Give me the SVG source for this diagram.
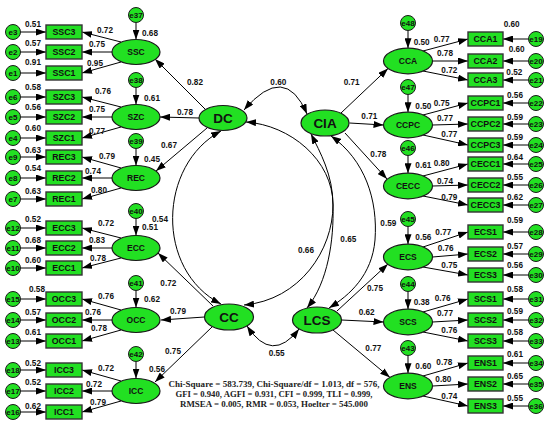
<svg xmlns="http://www.w3.org/2000/svg" width="550" height="426" viewBox="0 0 550 426">
<defs>
<marker id="ah" viewBox="0 0 10 7" refX="10" refY="3.5" markerWidth="10" markerHeight="7" markerUnits="userSpaceOnUse" orient="auto"><path d="M0,0 L10,3.5 L0,7 z" fill="#000"/></marker>
<marker id="ahs" viewBox="0 0 10 7" refX="10" refY="3.5" markerWidth="10" markerHeight="7" markerUnits="userSpaceOnUse" orient="auto-start-reverse"><path d="M0,0 L10,3.5 L0,7 z" fill="#000"/></marker>
<style>
.lat{fill:#22e022;stroke:#1a1a1a;stroke-width:1.2}
.box{fill:#22e022;stroke:#333;stroke-width:1.4}
.err{fill:#22e022;stroke:#1a1a1a;stroke-width:1}
.t{font-family:"Liberation Sans",Arial,sans-serif;font-weight:bold;fill:#111;text-anchor:middle}
.n{font-size:8.2px}
.bt{font-size:8.8px}
.lt{font-size:8.5px}
.big{font-size:13.5px}
.et{font-size:8px}
.c line,.c path{fill:none;stroke:#000;stroke-width:1;marker-end:url(#ah)}
.c .dbl{marker-start:url(#ahs)}
.st{font-family:"Liberation Serif","Times New Roman",serif;font-size:9px;font-weight:bold;fill:#222;text-anchor:middle}
</style>
</defs>
<rect width="550" height="426" fill="#fff"/>

<g id="connectors" class="c">
<line x1="20.5" y1="32" x2="46" y2="32"/><line x1="20.5" y1="52" x2="46" y2="52"/><line x1="20.5" y1="73" x2="46" y2="73"/>
<line x1="20.5" y1="97" x2="46" y2="97"/><line x1="20.5" y1="117" x2="46" y2="117"/><line x1="20.5" y1="138" x2="46" y2="138"/>
<line x1="20.5" y1="157" x2="46" y2="157"/><line x1="20.5" y1="178" x2="46" y2="178"/><line x1="20.5" y1="199" x2="46" y2="199"/>
<line x1="20.5" y1="228" x2="46" y2="228"/><line x1="20.5" y1="248" x2="46" y2="248"/><line x1="20.5" y1="268" x2="46" y2="268"/>
<line x1="20.5" y1="299" x2="46" y2="299"/><line x1="20.5" y1="320" x2="46" y2="320"/><line x1="20.5" y1="341" x2="46" y2="341"/>
<line x1="20.5" y1="370" x2="46" y2="370"/><line x1="20.5" y1="391" x2="46" y2="391"/><line x1="20.5" y1="412" x2="46" y2="412"/>
<line x1="136" y1="22.5" x2="136" y2="39.5"/><line x1="136" y1="87.5" x2="136" y2="104.5"/><line x1="136" y1="148.5" x2="136" y2="165.5"/>
<line x1="136" y1="218.5" x2="136" y2="235.5"/><line x1="136" y1="290.5" x2="136" y2="307.5"/><line x1="136" y1="361.5" x2="136" y2="378.5"/>
<line x1="121" y1="42" x2="82" y2="32"/><line x1="112" y1="52" x2="82" y2="52"/><line x1="121" y1="62" x2="82" y2="73"/>
<line x1="121" y1="107" x2="82" y2="97"/><line x1="112" y1="117" x2="82" y2="117"/><line x1="121" y1="127" x2="82" y2="138"/>
<line x1="121" y1="168" x2="82" y2="157"/><line x1="112" y1="178" x2="82" y2="178"/><line x1="121" y1="188" x2="82" y2="199"/>
<line x1="121" y1="238" x2="82" y2="228"/><line x1="112" y1="248" x2="82" y2="248"/><line x1="121" y1="258" x2="82" y2="268"/>
<line x1="121" y1="310" x2="82" y2="299"/><line x1="112" y1="320" x2="82" y2="320"/><line x1="121" y1="330" x2="82" y2="341"/>
<line x1="121" y1="381" x2="82" y2="370"/><line x1="112" y1="391" x2="82" y2="391"/><line x1="121" y1="401" x2="82" y2="412"/>
<line x1="528.5" y1="39" x2="503" y2="39"/><line x1="528.5" y1="61" x2="503" y2="61"/><line x1="528.5" y1="80" x2="503" y2="80"/>
<line x1="528.5" y1="103" x2="503" y2="103"/><line x1="528.5" y1="124" x2="503" y2="124"/><line x1="528.5" y1="145" x2="503" y2="145"/>
<line x1="528.5" y1="164" x2="503" y2="164"/><line x1="528.5" y1="185" x2="503" y2="185"/><line x1="528.5" y1="205" x2="503" y2="205"/>
<line x1="528.5" y1="232" x2="503" y2="232"/><line x1="528.5" y1="254" x2="503" y2="254"/><line x1="528.5" y1="275" x2="503" y2="275"/>
<line x1="528.5" y1="299" x2="503" y2="299"/><line x1="528.5" y1="320" x2="503" y2="320"/><line x1="528.5" y1="341" x2="503" y2="341"/>
<line x1="528.5" y1="363" x2="503" y2="363"/><line x1="528.5" y1="384" x2="503" y2="384"/><line x1="528.5" y1="406" x2="503" y2="406"/>
<line x1="408" y1="30.5" x2="408" y2="48.2"/><line x1="408" y1="94.5" x2="408" y2="112.2"/><line x1="408" y1="155.5" x2="408" y2="173.2"/>
<line x1="408" y1="226.5" x2="408" y2="244.2"/><line x1="408" y1="291.5" x2="408" y2="309.2"/><line x1="408" y1="355.5" x2="408" y2="373.2"/>
<line x1="423" y1="51" x2="468" y2="39"/><line x1="432.5" y1="61" x2="468" y2="61"/><line x1="423" y1="71" x2="468" y2="80"/>
<line x1="423" y1="115" x2="468" y2="103"/><line x1="432.5" y1="125" x2="468" y2="124"/><line x1="423" y1="135" x2="468" y2="145"/>
<line x1="423" y1="176" x2="468" y2="164"/><line x1="432.5" y1="186" x2="468" y2="185"/><line x1="423" y1="196" x2="468" y2="205"/>
<line x1="423" y1="247" x2="468" y2="232"/><line x1="432.5" y1="257" x2="468" y2="254"/><line x1="423" y1="267" x2="468" y2="275"/>
<line x1="423" y1="312" x2="468" y2="299"/><line x1="432.5" y1="322" x2="468" y2="320"/><line x1="423" y1="332" x2="468" y2="341"/>
<line x1="423" y1="376" x2="468" y2="363"/><line x1="432.5" y1="386" x2="468" y2="384"/><line x1="423" y1="396" x2="468" y2="406"/>
<line x1="205" y1="109" x2="155" y2="59"/>
<line x1="199" y1="118" x2="160" y2="117"/>
<line x1="207" y1="128" x2="156" y2="171"/>
<line x1="341" y1="113" x2="388" y2="68.5"/>
<line x1="349.5" y1="123" x2="383.5" y2="125"/>
<line x1="345" y1="133" x2="387" y2="179"/>
<line x1="213" y1="306" x2="158" y2="253"/>
<line x1="204.5" y1="317" x2="161" y2="320"/>
<line x1="212" y1="327" x2="155" y2="382"/>
<line x1="337" y1="311" x2="388" y2="264"/>
<line x1="341.5" y1="320" x2="383.5" y2="322"/>
<line x1="333" y1="330" x2="390" y2="377.5"/>
<path class="dbl" d="M244,110 Q285,62 307,114"/>
<path class="dbl" d="M221,131 C158,165 155,270 221,304"/>
<path class="dbl" d="M246,122 C290,125 333,160 333,205 C334,240 328,282 307,308"/>
<path class="dbl" d="M311,134 C320,152 333,175 333,205 C333,250 300,300 244,305"/>
<path class="dbl" d="M331,136 C365,160 378,200 375,240 C372,275 350,295 329,308"/>
<path class="dbl" d="M247,326 Q272,364 299,329"/>
</g>

<g id="labels" class="t n">
<text x="33" y="27">0.51</text><text x="33" y="45.7">0.57</text><text x="33" y="64.7">0.91</text>
<text x="33" y="89.7">0.58</text><text x="33" y="110.3">0.56</text><text x="33" y="131.3">0.60</text>
<text x="33" y="153">0.63</text><text x="33" y="171">0.54</text><text x="33" y="193.7">0.63</text>
<text x="33" y="222">0.52</text><text x="33" y="243">0.68</text><text x="33" y="263">0.60</text>
<text x="37" y="292">0.58</text><text x="33" y="315">0.57</text><text x="33" y="334.7">0.61</text>
<text x="33" y="365.7">0.52</text><text x="33" y="384.7">0.52</text><text x="33" y="409">0.62</text>
<text x="105" y="33">0.72</text><text x="97" y="47">0.75</text><text x="95" y="66">0.95</text>
<text x="103" y="94">0.76</text><text x="97" y="112">0.75</text><text x="97" y="134">0.77</text>
<text x="107" y="159">0.79</text><text x="93" y="174">0.74</text><text x="99" y="193">0.80</text>
<text x="106" y="226">0.72</text><text x="97" y="243">0.83</text><text x="98" y="261">0.78</text>
<text x="106" y="299">0.76</text><text x="93" y="315">0.76</text><text x="99" y="331">0.78</text>
<text x="106" y="371">0.72</text><text x="94" y="387">0.72</text><text x="98" y="405">0.79</text>
<text x="150" y="36">0.68</text><text x="152" y="101">0.61</text><text x="152" y="162">0.45</text>
<text x="150" y="230">0.51</text><text x="152" y="302">0.62</text><text x="157" y="372">0.56</text>
<text x="421.7" y="45.3">0.50</text><text x="423.3" y="109">0.50</text><text x="423.3" y="168">0.61</text>
<text x="423.3" y="239.7">0.56</text><text x="421.7" y="304.7">0.38</text><text x="423.3" y="369">0.60</text>
<text x="441.7" y="42">0.77</text><text x="445" y="56.3">0.78</text><text x="449.3" y="73">0.72</text>
<text x="441.7" y="106.3">0.75</text><text x="445" y="121.3">0.77</text><text x="449.3" y="137.3">0.77</text>
<text x="441.7" y="166.3">0.80</text><text x="445" y="184">0.74</text><text x="449.3" y="199.7">0.79</text>
<text x="443.3" y="234.7">0.77</text><text x="445.7" y="251.3">0.76</text><text x="449.3" y="268">0.75</text>
<text x="442.7" y="301.3">0.76</text><text x="445" y="316.3">0.77</text><text x="449.3" y="333">0.76</text>
<text x="444.3" y="364.7">0.78</text><text x="443.3" y="382">0.80</text><text x="449.3" y="399">0.74</text>
<text x="511.7" y="27">0.60</text><text x="516.7" y="52.3">0.60</text><text x="514.3" y="74.7">0.52</text>
<text x="515" y="98">0.56</text><text x="515" y="119.7">0.59</text><text x="515" y="139.7">0.59</text>
<text x="515" y="159.7">0.64</text><text x="515" y="179.7">0.55</text><text x="515" y="199.7">0.62</text>
<text x="515" y="223">0.59</text><text x="515" y="249">0.57</text><text x="515" y="268">0.56</text>
<text x="515" y="292">0.58</text><text x="515" y="313.7">0.59</text><text x="515" y="334.7">0.58</text>
<text x="515" y="357">0.61</text><text x="515" y="378.7">0.65</text><text x="515" y="401.3">0.55</text>
<text x="195" y="85.3">0.82</text><text x="185" y="114.7">0.78</text><text x="169" y="148">0.67</text>
<text x="351.7" y="85.3">0.71</text><text x="369.3" y="119">0.71</text><text x="378.3" y="157">0.78</text>
<text x="168.3" y="286.3">0.72</text><text x="178" y="313.7">0.79</text><text x="173" y="354">0.75</text>
<text x="375" y="291.3">0.75</text><text x="366.7" y="314.7">0.62</text><text x="373.3" y="351.3">0.77</text>
<text x="278.3" y="85.3">0.60</text><text x="160" y="222">0.54</text><text x="306" y="253">0.66</text>
<text x="348.3" y="242.3">0.65</text><text x="388.3" y="226.3">0.59</text><text x="276.7" y="356.3">0.55</text>
</g>

<g id="SSC"><ellipse class="lat" cx="136" cy="52" rx="24" ry="12.5"/><text class="t lt" x="136" y="55">SSC</text></g>
<g id="SZC"><ellipse class="lat" cx="136" cy="117" rx="24" ry="12.5"/><text class="t lt" x="136" y="120">SZC</text></g>
<g id="REC"><ellipse class="lat" cx="136" cy="178" rx="24" ry="12.5"/><text class="t lt" x="136" y="181">REC</text></g>
<g id="ECC"><ellipse class="lat" cx="136" cy="248" rx="24" ry="12.5"/><text class="t lt" x="136" y="251">ECC</text></g>
<g id="OCC"><ellipse class="lat" cx="136" cy="320" rx="24" ry="12.5"/><text class="t lt" x="136" y="323">OCC</text></g>
<g id="ICC"><ellipse class="lat" cx="136" cy="391" rx="24" ry="12.5"/><text class="t lt" x="136" y="394">ICC</text></g>

<g id="e37"><circle class="err" cx="136" cy="15" r="7.5"/><text class="t et" x="136" y="18">e37</text></g>
<g id="e38"><circle class="err" cx="136" cy="80" r="7.5"/><text class="t et" x="136" y="83">e38</text></g>
<g id="e39"><circle class="err" cx="136" cy="141" r="7.5"/><text class="t et" x="136" y="144">e39</text></g>
<g id="e40"><circle class="err" cx="136" cy="211" r="7.5"/><text class="t et" x="136" y="214">e40</text></g>
<g id="e41"><circle class="err" cx="136" cy="283" r="7.5"/><text class="t et" x="136" y="286">e41</text></g>
<g id="e42"><circle class="err" cx="136" cy="354" r="7.5"/><text class="t et" x="136" y="357">e42</text></g>

<g id="SSC3"><rect class="box" x="46" y="25" width="36" height="14"/><text class="t bt" x="64" y="35.2">SSC3</text></g>
<g id="SSC2"><rect class="box" x="46" y="45" width="36" height="14"/><text class="t bt" x="64" y="55.2">SSC2</text></g>
<g id="SSC1"><rect class="box" x="46" y="66" width="36" height="14"/><text class="t bt" x="64" y="76.2">SSC1</text></g>
<g id="SZC3"><rect class="box" x="46" y="90" width="36" height="14"/><text class="t bt" x="64" y="100.2">SZC3</text></g>
<g id="SZC2"><rect class="box" x="46" y="110" width="36" height="14"/><text class="t bt" x="64" y="120.2">SZC2</text></g>
<g id="SZC1"><rect class="box" x="46" y="131" width="36" height="14"/><text class="t bt" x="64" y="141.2">SZC1</text></g>
<g id="REC3"><rect class="box" x="46" y="150" width="36" height="14"/><text class="t bt" x="64" y="160.2">REC3</text></g>
<g id="REC2"><rect class="box" x="46" y="171" width="36" height="14"/><text class="t bt" x="64" y="181.2">REC2</text></g>
<g id="REC1"><rect class="box" x="46" y="192" width="36" height="14"/><text class="t bt" x="64" y="202.2">REC1</text></g>
<g id="ECC3"><rect class="box" x="46" y="221" width="36" height="14"/><text class="t bt" x="64" y="231.2">ECC3</text></g>
<g id="ECC2"><rect class="box" x="46" y="241" width="36" height="14"/><text class="t bt" x="64" y="251.2">ECC2</text></g>
<g id="ECC1"><rect class="box" x="46" y="261" width="36" height="14"/><text class="t bt" x="64" y="271.2">ECC1</text></g>
<g id="OCC3"><rect class="box" x="46" y="292" width="36" height="14"/><text class="t bt" x="64" y="302.2">OCC3</text></g>
<g id="OCC2"><rect class="box" x="46" y="313" width="36" height="14"/><text class="t bt" x="64" y="323.2">OCC2</text></g>
<g id="OCC1"><rect class="box" x="46" y="334" width="36" height="14"/><text class="t bt" x="64" y="344.2">OCC1</text></g>
<g id="ICC3"><rect class="box" x="46" y="363" width="36" height="14"/><text class="t bt" x="64" y="373.2">ICC3</text></g>
<g id="ICC2"><rect class="box" x="46" y="384" width="36" height="14"/><text class="t bt" x="64" y="394.2">ICC2</text></g>
<g id="ICC1"><rect class="box" x="46" y="405" width="36" height="14"/><text class="t bt" x="64" y="415.2">ICC1</text></g>

<g id="e3"><circle class="err" cx="13" cy="32" r="7.5"/><text class="t et" x="13" y="35">e3</text></g>
<g id="e2"><circle class="err" cx="13" cy="52" r="7.5"/><text class="t et" x="13" y="55">e2</text></g>
<g id="e1"><circle class="err" cx="13" cy="73" r="7.5"/><text class="t et" x="13" y="76">e1</text></g>
<g id="e6"><circle class="err" cx="13" cy="97" r="7.5"/><text class="t et" x="13" y="100">e6</text></g>
<g id="e5"><circle class="err" cx="13" cy="117" r="7.5"/><text class="t et" x="13" y="120">e5</text></g>
<g id="e4"><circle class="err" cx="13" cy="138" r="7.5"/><text class="t et" x="13" y="141">e4</text></g>
<g id="e9"><circle class="err" cx="13" cy="157" r="7.5"/><text class="t et" x="13" y="160">e9</text></g>
<g id="e8"><circle class="err" cx="13" cy="178" r="7.5"/><text class="t et" x="13" y="181">e8</text></g>
<g id="e7"><circle class="err" cx="13" cy="199" r="7.5"/><text class="t et" x="13" y="202">e7</text></g>
<g id="e12"><circle class="err" cx="13" cy="228" r="7.5"/><text class="t et" x="13" y="231">e12</text></g>
<g id="e11"><circle class="err" cx="13" cy="248" r="7.5"/><text class="t et" x="13" y="251">e11</text></g>
<g id="e10"><circle class="err" cx="13" cy="268" r="7.5"/><text class="t et" x="13" y="271">e10</text></g>
<g id="e15"><circle class="err" cx="13" cy="299" r="7.5"/><text class="t et" x="13" y="302">e15</text></g>
<g id="e14"><circle class="err" cx="13" cy="320" r="7.5"/><text class="t et" x="13" y="323">e14</text></g>
<g id="e13"><circle class="err" cx="13" cy="341" r="7.5"/><text class="t et" x="13" y="344">e13</text></g>
<g id="e18"><circle class="err" cx="13" cy="370" r="7.5"/><text class="t et" x="13" y="373">e18</text></g>
<g id="e17"><circle class="err" cx="13" cy="391" r="7.5"/><text class="t et" x="13" y="394">e17</text></g>
<g id="e16"><circle class="err" cx="13" cy="412" r="7.5"/><text class="t et" x="13" y="415">e16</text></g>

<g id="DC"><ellipse class="lat" cx="223" cy="118" rx="24" ry="12.5"/><text class="t big" x="223" y="123">DC</text></g>
<g id="CIA"><ellipse class="lat" cx="325" cy="123" rx="24" ry="13"/><text class="t big" x="325" y="128">CIA</text></g>
<g id="CC"><ellipse class="lat" cx="229" cy="317" rx="24.5" ry="13"/><text class="t big" x="229" y="322">CC</text></g>
<g id="LCS"><ellipse class="lat" cx="317" cy="320" rx="24.5" ry="13"/><text class="t big" x="317" y="325">LCS</text></g>

<g id="CCA"><ellipse class="lat" cx="408" cy="61" rx="24.5" ry="12.8"/><text class="t lt" x="408" y="64">CCA</text></g>
<g id="CCPC"><ellipse class="lat" cx="408" cy="125" rx="24.5" ry="12.8"/><text class="t lt" x="408" y="128">CCPC</text></g>
<g id="CECC"><ellipse class="lat" cx="408" cy="186" rx="24.5" ry="12.8"/><text class="t lt" x="408" y="189">CECC</text></g>
<g id="ECS"><ellipse class="lat" cx="408" cy="257" rx="24.5" ry="12.8"/><text class="t lt" x="408" y="260">ECS</text></g>
<g id="SCS"><ellipse class="lat" cx="408" cy="322" rx="24.5" ry="12.8"/><text class="t lt" x="408" y="325">SCS</text></g>
<g id="ENS"><ellipse class="lat" cx="408" cy="386" rx="24.5" ry="12.8"/><text class="t lt" x="408" y="389">ENS</text></g>

<g id="e48"><circle class="err" cx="408" cy="23" r="7.5"/><text class="t et" x="408" y="26">e48</text></g>
<g id="e47"><circle class="err" cx="408" cy="87" r="7.5"/><text class="t et" x="408" y="90">e47</text></g>
<g id="e46"><circle class="err" cx="408" cy="148" r="7.5"/><text class="t et" x="408" y="151">e46</text></g>
<g id="e45"><circle class="err" cx="408" cy="219" r="7.5"/><text class="t et" x="408" y="222">e45</text></g>
<g id="e44"><circle class="err" cx="408" cy="284" r="7.5"/><text class="t et" x="408" y="287">e44</text></g>
<g id="e43"><circle class="err" cx="408" cy="348" r="7.5"/><text class="t et" x="408" y="351">e43</text></g>

<g id="CCA1"><rect class="box" x="468" y="32" width="35" height="14"/><text class="t bt" x="485.5" y="42.2">CCA1</text></g>
<g id="CCA2"><rect class="box" x="468" y="54" width="35" height="14"/><text class="t bt" x="485.5" y="64.2">CCA2</text></g>
<g id="CCA3"><rect class="box" x="468" y="73" width="35" height="14"/><text class="t bt" x="485.5" y="83.2">CCA3</text></g>
<g id="CCPC1"><rect class="box" x="468" y="96" width="35" height="14"/><text class="t bt" x="485.5" y="106.2">CCPC1</text></g>
<g id="CCPC2"><rect class="box" x="468" y="117" width="35" height="14"/><text class="t bt" x="485.5" y="127.2">CCPC2</text></g>
<g id="CCPC3"><rect class="box" x="468" y="138" width="35" height="14"/><text class="t bt" x="485.5" y="148.2">CCPC3</text></g>
<g id="CECC1"><rect class="box" x="468" y="157" width="35" height="14"/><text class="t bt" x="485.5" y="167.2">CECC1</text></g>
<g id="CECC2"><rect class="box" x="468" y="178" width="35" height="14"/><text class="t bt" x="485.5" y="188.2">CECC2</text></g>
<g id="CECC3"><rect class="box" x="468" y="198" width="35" height="14"/><text class="t bt" x="485.5" y="208.2">CECC3</text></g>
<g id="ECS1"><rect class="box" x="468" y="225" width="35" height="14"/><text class="t bt" x="485.5" y="235.2">ECS1</text></g>
<g id="ECS2"><rect class="box" x="468" y="247" width="35" height="14"/><text class="t bt" x="485.5" y="257.2">ECS2</text></g>
<g id="ECS3"><rect class="box" x="468" y="268" width="35" height="14"/><text class="t bt" x="485.5" y="278.2">ECS3</text></g>
<g id="SCS1"><rect class="box" x="468" y="292" width="35" height="14"/><text class="t bt" x="485.5" y="302.2">SCS1</text></g>
<g id="SCS2"><rect class="box" x="468" y="313" width="35" height="14"/><text class="t bt" x="485.5" y="323.2">SCS2</text></g>
<g id="SCS3"><rect class="box" x="468" y="334" width="35" height="14"/><text class="t bt" x="485.5" y="344.2">SCS3</text></g>
<g id="ENS1"><rect class="box" x="468" y="356" width="35" height="14"/><text class="t bt" x="485.5" y="366.2">ENS1</text></g>
<g id="ENS2"><rect class="box" x="468" y="377" width="35" height="14"/><text class="t bt" x="485.5" y="387.2">ENS2</text></g>
<g id="ENS3"><rect class="box" x="468" y="399" width="35" height="14"/><text class="t bt" x="485.5" y="409.2">ENS3</text></g>

<g id="e19"><circle class="err" cx="536" cy="39" r="7.5"/><text class="t et" x="536" y="42">e19</text></g>
<g id="e20"><circle class="err" cx="536" cy="61" r="7.5"/><text class="t et" x="536" y="64">e20</text></g>
<g id="e21"><circle class="err" cx="536" cy="80" r="7.5"/><text class="t et" x="536" y="83">e21</text></g>
<g id="e22"><circle class="err" cx="536" cy="103" r="7.5"/><text class="t et" x="536" y="106">e22</text></g>
<g id="e23"><circle class="err" cx="536" cy="124" r="7.5"/><text class="t et" x="536" y="127">e23</text></g>
<g id="e24"><circle class="err" cx="536" cy="145" r="7.5"/><text class="t et" x="536" y="148">e24</text></g>
<g id="e25"><circle class="err" cx="536" cy="164" r="7.5"/><text class="t et" x="536" y="167">e25</text></g>
<g id="e26"><circle class="err" cx="536" cy="185" r="7.5"/><text class="t et" x="536" y="188">e26</text></g>
<g id="e27"><circle class="err" cx="536" cy="205" r="7.5"/><text class="t et" x="536" y="208">e27</text></g>
<g id="e28"><circle class="err" cx="536" cy="232" r="7.5"/><text class="t et" x="536" y="235">e28</text></g>
<g id="e29"><circle class="err" cx="536" cy="254" r="7.5"/><text class="t et" x="536" y="257">e29</text></g>
<g id="e30"><circle class="err" cx="536" cy="275" r="7.5"/><text class="t et" x="536" y="278">e30</text></g>
<g id="e31"><circle class="err" cx="536" cy="299" r="7.5"/><text class="t et" x="536" y="302">e31</text></g>
<g id="e32"><circle class="err" cx="536" cy="320" r="7.5"/><text class="t et" x="536" y="323">e32</text></g>
<g id="e33"><circle class="err" cx="536" cy="341" r="7.5"/><text class="t et" x="536" y="344">e33</text></g>
<g id="e34"><circle class="err" cx="536" cy="363" r="7.5"/><text class="t et" x="536" y="366">e34</text></g>
<g id="e35"><circle class="err" cx="536" cy="384" r="7.5"/><text class="t et" x="536" y="387">e35</text></g>
<g id="e36"><circle class="err" cx="536" cy="406" r="7.5"/><text class="t et" x="536" y="409">e36</text></g>

<g id="fit-stats">
<text class="st" x="274" y="386.5" textLength="211" lengthAdjust="spacingAndGlyphs">Chi-Square = 583.739, Chi-Square/df = 1.013, df = 576,</text>
<text class="st" x="274" y="396.5" textLength="197" lengthAdjust="spacingAndGlyphs">GFI = 0.940, AGFI = 0.931, CFI = 0.999, TLI = 0.999,</text>
<text class="st" x="274" y="406.5" textLength="188" lengthAdjust="spacingAndGlyphs">RMSEA = 0.005, RMR = 0.053, Hoelter = 545.000</text>
</g>
</svg>
